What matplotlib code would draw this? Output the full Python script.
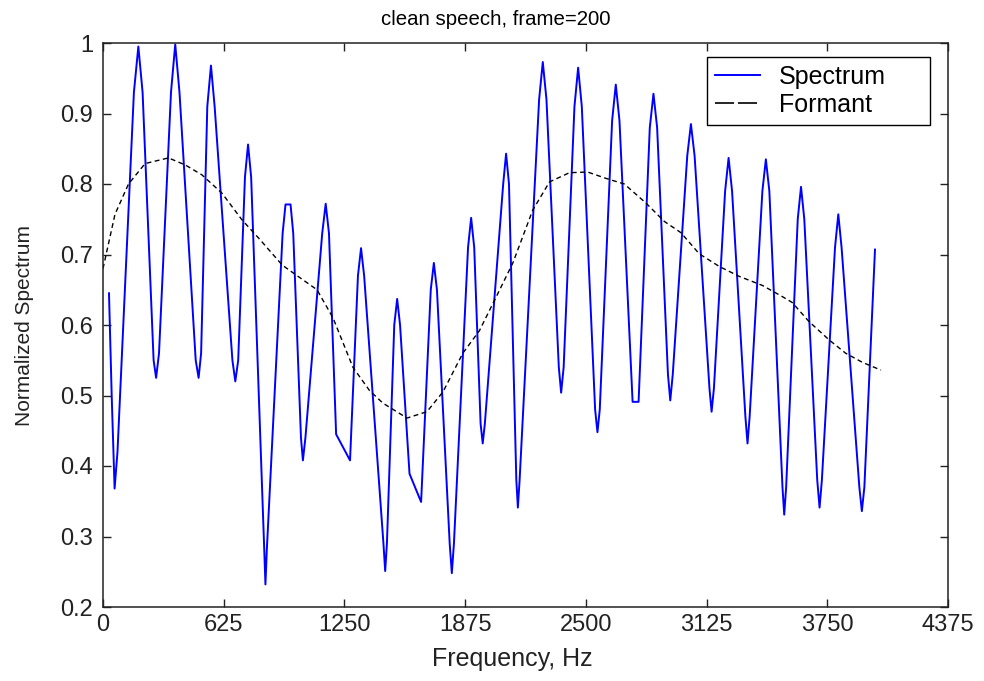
import matplotlib
matplotlib.use('Agg')
import matplotlib.pyplot as plt
from matplotlib.lines import Line2D
from matplotlib.ticker import FuncFormatter

# Spectrum (frame 200): extrema plus shoulder points
spec_x = [31, 45, 60, 75,
          160, 183, 205, 262, 275, 290,
          352, 374, 396, 480, 495, 508,
          540, 559, 578, 670, 685, 700,
          735, 751, 767, 835, 841, 848,
          930, 945, 971, 985, 1025, 1035, 1048,
          1135, 1153, 1170, 1207, 1279,
          1320, 1336, 1352, 1452, 1461, 1470,
          1508, 1523, 1538, 1587, 1647,
          1697, 1713, 1729, 1795, 1806, 1817,
          1890, 1906, 1922, 1955, 1966, 1977,
          2072, 2087, 2102, 2140, 2148, 2157,
          2258, 2277, 2296, 2360, 2372, 2385,
          2441, 2460, 2479, 2548, 2560, 2572,
          2636, 2655, 2674, 2742, 2773,
          2831, 2850, 2869, 2925, 2937, 2950,
          3025, 3044, 3063, 3140, 3151, 3163,
          3221, 3239, 3257, 3326, 3337, 3348,
          3414, 3432, 3450, 3518, 3527, 3537,
          3597, 3614, 3631, 3698, 3710, 3722,
          3790, 3807, 3824, 3916, 3929, 3942,
          3997]
spec_y = [0.645, 0.50, 0.368, 0.42,
          0.93, 0.995, 0.93, 0.55, 0.525, 0.56,
          0.93, 0.998, 0.93, 0.55, 0.525, 0.56,
          0.91, 0.968, 0.91, 0.55, 0.520, 0.55,
          0.81, 0.856, 0.81, 0.28, 0.232, 0.28,
          0.73, 0.771, 0.771, 0.73, 0.44, 0.408, 0.44,
          0.73, 0.772, 0.73, 0.445, 0.408,
          0.67, 0.709, 0.67, 0.29, 0.251, 0.29,
          0.60, 0.637, 0.60, 0.389, 0.349,
          0.65, 0.688, 0.65, 0.29, 0.248, 0.29,
          0.71, 0.752, 0.71, 0.46, 0.432, 0.46,
          0.80, 0.843, 0.80, 0.38, 0.341, 0.38,
          0.92, 0.973, 0.92, 0.54, 0.504, 0.54,
          0.91, 0.965, 0.91, 0.48, 0.448, 0.48,
          0.89, 0.941, 0.89, 0.491, 0.491,
          0.88, 0.928, 0.88, 0.53, 0.493, 0.53,
          0.84, 0.885, 0.84, 0.51, 0.477, 0.51,
          0.79, 0.837, 0.79, 0.47, 0.432, 0.47,
          0.79, 0.835, 0.79, 0.37, 0.331, 0.37,
          0.75, 0.796, 0.75, 0.38, 0.341, 0.38,
          0.71, 0.757, 0.71, 0.37, 0.336, 0.37,
          0.707]

# Formant envelope
form_x = [0, 62, 132, 218, 339, 426, 512, 616, 720, 810, 928, 984, 1108,
          1191, 1294, 1380, 1450, 1574, 1677, 1760, 1863, 1949, 2036, 2122,
          2225, 2312, 2415, 2509, 2604, 2699, 2811, 2906, 2992, 3087, 3191,
          3294, 3415, 3519, 3568, 3655, 3759, 3845, 3932, 4028]
form_y = [0.680, 0.757, 0.800, 0.829, 0.837, 0.827, 0.813, 0.787, 0.749,
          0.722, 0.685, 0.674, 0.650, 0.610, 0.540, 0.507, 0.489, 0.468,
          0.477, 0.505, 0.560, 0.592, 0.640, 0.688, 0.763, 0.803, 0.816,
          0.817, 0.808, 0.800, 0.773, 0.747, 0.731, 0.701, 0.683, 0.669,
          0.656, 0.640, 0.632, 0.605, 0.579, 0.560, 0.547, 0.536]

xticks = [0, 625, 1250, 1875, 2500, 3125, 3750, 4375]
yticks = [0.2, 0.3, 0.4, 0.5, 0.6, 0.7, 0.8, 0.9, 1.0]

plt.rcParams['font.family'] = ['Liberation Sans', 'DejaVu Sans']

fig = plt.figure(figsize=(9.84, 6.81), dpi=100)
ax = fig.add_axes([103 / 984, 1 - 607 / 681, 845 / 984, 564 / 681])

ax.plot(spec_x, spec_y, color='#0000ff', lw=1.4)
ax.plot(form_x, form_y, color='black', lw=1.0, ls=(0, (3.5, 2.5)))

ax.set_xlim(0, 4375)
ax.set_ylim(0.2, 1.0)
ax.set_xticks(xticks)
ax.set_yticks(yticks)
ax.yaxis.set_major_formatter(FuncFormatter(lambda v, p: f'{v:g}'))
ax.tick_params(direction='in', length=6, width=1, top=True, right=True,
               labelsize=17, colors='#222222', pad=5)
ax.tick_params(axis='y', pad=7)
for s in ax.spines.values():
    s.set_linewidth(1.1)
    s.set_color('#222222')

ax.set_title('clean speech, frame=200', fontsize=14.7, pad=13, x=0.465)
ax.set_xlabel('Frequency, Hz', fontsize=18, labelpad=8, color='#222222', x=0.484)
ax.set_ylabel('Normalized Spectrum', fontsize=15, labelpad=19, color='#222222')

# legend drawn like the MATLAB one: wide box, long dashes
handles = [Line2D([], [], color='#0000ff', lw=1.4),
           Line2D([], [], color='black', lw=1.2, dashes=(11.4, 2.4))]
leg = ax.legend(handles, ['Spectrum', 'Formant'], loc='upper left',
                bbox_to_anchor=(707 / 984, 1 - 124 / 681, 223 / 984, 67 / 681),
                bbox_transform=fig.transFigure, mode='expand', borderaxespad=0,
                fontsize=18, fancybox=False, framealpha=1, edgecolor='black',
                handlelength=1.8, handletextpad=0.75, labelspacing=0.16,
                borderpad=0.32)
leg.get_frame().set_linewidth(1.0)

fig.savefig('out.png', dpi=100)
